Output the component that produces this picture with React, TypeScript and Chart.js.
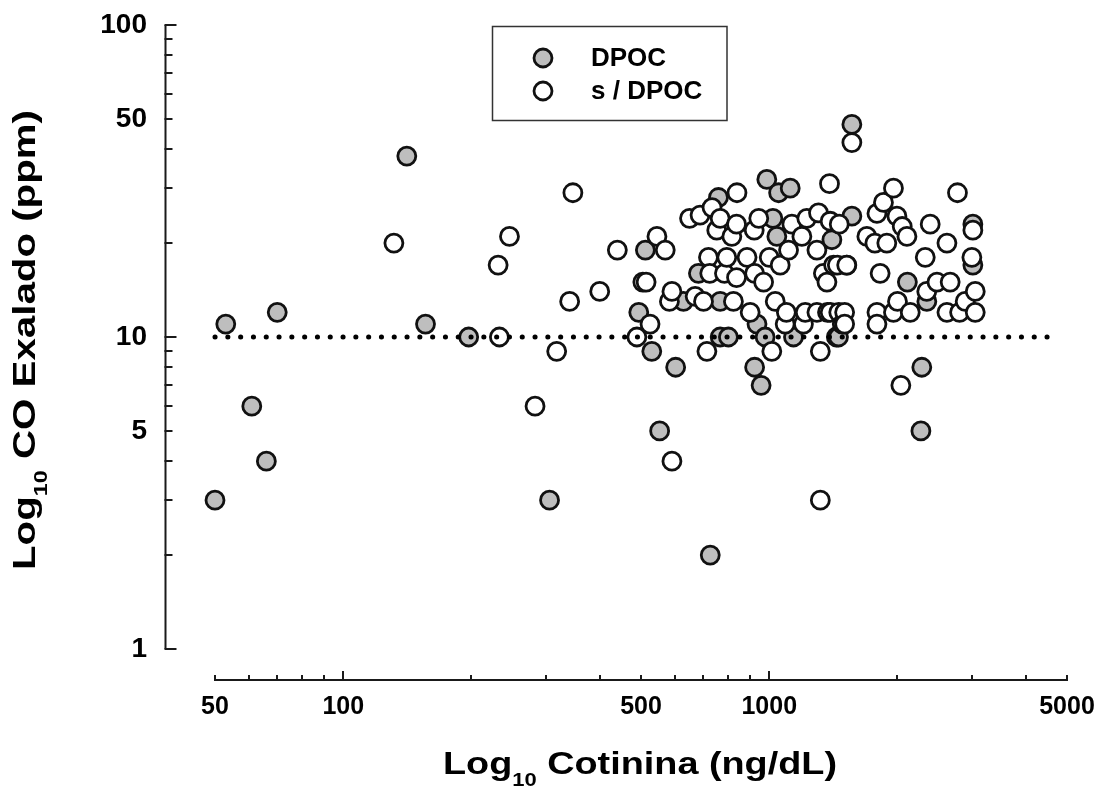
import React, { useEffect, useRef } from 'react';
import { Chart, registerables } from 'chart.js';

Chart.register(...registerables);

// ---- Axis ticks ----
const X_TICK_LABELS = [50, 100, 500, 1000, 5000];
const Y_TICK_LABELS = [1, 5, 10, 50, 100];
const X_TICK_MARKS = [50, 60, 70, 80, 90, 100, 200, 300, 400, 500, 600, 700, 800, 900, 1000, 2000, 3000, 4000, 5000];
const X_MAJOR_MARKS = [100, 1000];
const Y_TICK_MARKS = [1, 2, 3, 4, 5, 6, 7, 8, 9, 10, 20, 30, 40, 50, 60, 70, 80, 90, 100];
const Y_MAJOR_MARKS = [1, 10, 100];

// ---- Reference line (CO = 10 ppm) ----
const REF_LINE_X = [50, 4800];
const REF_LINE_Y = 10;

// ---- DPOC (grey) ----
const dpocX = [50, 53, 61, 66, 70, 141, 156, 197, 305, 494, 512, 530, 553, 603, 629, 682, 727, 760, 767, 767, 802, 924, 936, 957, 978, 987, 1020, 1042, 1052, 1120, 1140, 1403, 1437, 1454, 1521, 1563, 1563, 2110, 2270, 2281, 2344, 3006, 3006];
const dpocY = [3, 11, 6, 4, 12, 38, 11, 10, 3, 12, 19, 9, 5, 8, 13, 16, 2, 28, 10, 13, 10, 8, 11, 7, 10, 32, 24, 21, 29, 30, 10, 20.5, 10, 10, 17, 48, 24.4, 15, 5, 8, 13, 23, 17];

// ---- s / DPOC (open) ----
const sdpocX = [131.5, 232.6, 231, 245.6, 282, 317, 340, 346, 400, 440, 489, 505, 514, 525, 545, 570, 583, 591, 591, 650, 670, 688, 701, 714, 720, 725, 734, 753, 767, 785, 795, 817, 824, 838, 838, 840, 887, 902, 922, 924, 945, 970, 1000, 1014, 1033, 1061, 1090, 1097, 1110, 1130, 1193, 1203, 1215, 1225, 1294, 1294, 1305, 1318, 1318, 1340, 1366, 1370, 1385, 1390, 1390, 1416, 1445, 1456, 1460, 1484, 1503, 1503, 1520, 1563, 1695, 1770, 1790, 1790, 1790, 1821, 1854, 1888, 1957, 1957, 1994, 2000, 2037, 2052, 2105, 2143, 2324, 2343, 2387, 2476, 2613, 2613, 2659, 2766, 2798, 2884, 2990, 3006, 3045, 3045];
const sdpocY = [20, 10, 17, 21, 6, 9, 13, 29, 14, 19, 10, 15, 15, 11, 21, 19, 13, 14, 4, 24, 13.5, 24.6, 13, 9, 18, 16, 26, 22, 24, 16, 18, 21, 13, 23, 15.5, 29, 18, 12, 22, 16, 24, 15, 18, 9, 13, 17, 11, 12, 19, 23, 21, 11, 12, 24, 12, 19, 25, 9, 3, 16, 15, 12, 31, 23.5, 12, 17, 17, 12, 23, 11, 12, 11, 17, 42, 21, 20, 24.9, 12, 11, 16, 27, 20, 30, 12, 24.4, 13, 7, 22.6, 21, 12, 18, 14, 23, 15, 20, 12, 15, 29, 12, 13, 18, 22, 14, 12];

const SERIES_LABELS = ['DPOC', 's / DPOC'];
const X_TITLE = [
  { t: 'Log', sub: false },
  { t: '10', sub: true },
  { t: ' Cotinina (ng/dL)', sub: false },
];
const Y_TITLE = [
  { t: 'Log', sub: false },
  { t: '10', sub: true },
  { t: ' CO Exalado (ppm)', sub: false },
];

const FONT = 'Arial, "Liberation Sans", Helvetica, sans-serif';
const GREY = '#bebebe';
const EDGE = '#111111';

type Part = { t: string; sub: boolean };

function drawRich(ctx: CanvasRenderingContext2D, parts: Part[], size: number, target: number) {
  const subSize = Math.round(size * 0.58);
  let w = 0;
  for (const p of parts) {
    ctx.font = `bold ${p.sub ? subSize : size}px ${FONT}`;
    w += ctx.measureText(p.t).width;
  }
  const s = target / w;
  ctx.scale(s, 1);
  let x = 0;
  ctx.textBaseline = 'alphabetic';
  ctx.textAlign = 'left';
  for (const p of parts) {
    ctx.font = `bold ${p.sub ? subSize : size}px ${FONT}`;
    ctx.fillText(p.t, x, p.sub ? size * 0.38 : 0);
    x += ctx.measureText(p.t).width;
  }
}

const decorPlugin = {
  id: 'decor',
  afterDraw(chart: any) {
    const ctx: CanvasRenderingContext2D = chart.ctx;
    const xs = chart.scales.x;
    const ys = chart.scales.y;
    ctx.save();
    ctx.strokeStyle = '#1a1a1a';
    ctx.fillStyle = '#000';
    ctx.lineWidth = 2;
    ctx.lineCap = 'butt';

    // y axis (detached)
    const yAxisX = 165.5;
    ctx.beginPath();
    ctx.moveTo(yAxisX, ys.getPixelForValue(100));
    ctx.lineTo(yAxisX, ys.getPixelForValue(1));
    ctx.stroke();
    for (const v of Y_TICK_MARKS) {
      const py = Math.round(ys.getPixelForValue(v));
      const len = Y_MAJOR_MARKS.includes(v) ? 11 : 7;
      ctx.beginPath();
      ctx.moveTo(yAxisX - 1, py);
      ctx.lineTo(yAxisX + len, py);
      ctx.stroke();
    }

    // x axis (detached)
    const xAxisY = 680;
    ctx.beginPath();
    ctx.moveTo(xs.getPixelForValue(50), xAxisY);
    ctx.lineTo(xs.getPixelForValue(5000), xAxisY);
    ctx.stroke();
    for (const v of X_TICK_MARKS) {
      const px = Math.round(xs.getPixelForValue(v));
      const len = X_MAJOR_MARKS.includes(v) ? 9 : 5;
      ctx.beginPath();
      ctx.moveTo(px, xAxisY + 1);
      ctx.lineTo(px, xAxisY - len);
      ctx.stroke();
    }

    // axis titles
    ctx.save();
    ctx.translate(443, 774);
    drawRich(ctx, X_TITLE, 31, 394);
    ctx.restore();

    ctx.save();
    ctx.translate(35, 570);
    ctx.rotate(-Math.PI / 2);
    drawRich(ctx, Y_TITLE, 31, 460);
    ctx.restore();

    // legend box
    ctx.lineWidth = 1.5;
    ctx.strokeStyle = '#333';
    ctx.strokeRect(492.5, 26.5, 234.5, 94);
    const ds = chart.data.datasets;
    const rows = [
      { d: ds[1], y: 58 },
      { d: ds[2], y: 91 },
    ];
    for (const r of rows) {
      ctx.beginPath();
      ctx.arc(543, r.y, 9, 0, Math.PI * 2);
      ctx.fillStyle = r.d.backgroundColor;
      ctx.fill();
      ctx.lineWidth = 2.8;
      ctx.strokeStyle = r.d.borderColor;
      ctx.stroke();
      ctx.fillStyle = '#000';
      ctx.font = `bold 26px ${FONT}`;
      ctx.textAlign = 'left';
      ctx.textBaseline = 'middle';
      ctx.fillText(r.d.label, 591, r.y + 1);
    }
    ctx.restore();
  },
};

export default function App() {
  const ref = useRef<HTMLCanvasElement | null>(null);
  useEffect(() => {
    if (!ref.current) return;
    const pts = (xs: number[], ys: number[]) => xs.map((x, i) => ({ x, y: ys[i] }));
    const chart = new Chart(ref.current, {
      type: 'scatter',
      data: {
        datasets: [
          {
            type: 'line',
            label: 'ref',
            data: REF_LINE_X.map((x) => ({ x, y: REF_LINE_Y })),
            borderColor: '#000',
            borderWidth: 5,
            borderDash: [0.1, 12.7],
            borderCapStyle: 'round',
            pointRadius: 0,
            fill: false,
            clip: false,
            order: 0,
          } as any,
          {
            label: SERIES_LABELS[0],
            data: pts(dpocX, dpocY),
            backgroundColor: GREY,
            borderColor: EDGE,
            borderWidth: 2.8,
            pointRadius: 9,
            clip: false,
            order: 2,
          } as any,
          {
            label: SERIES_LABELS[1],
            data: pts(sdpocX, sdpocY),
            backgroundColor: '#ffffff',
            borderColor: EDGE,
            borderWidth: 2.8,
            pointRadius: 9,
            clip: false,
            order: 1,
          } as any,
        ],
      },
      options: {
        responsive: false,
        animation: false,
        devicePixelRatio: 1,
        layout: { padding: { left: 0, right: 34, top: 25, bottom: 0 } },
        plugins: { legend: { display: false }, tooltip: { enabled: false } },
        scales: {
          x: {
            type: 'logarithmic',
            min: 50,
            max: 5000,
            position: 'bottom',
            grid: { display: false, drawTicks: true, tickLength: 43 },
            border: { display: false },
            afterBuildTicks: (s: any) => {
              s.ticks = X_TICK_LABELS.map((v) => ({ value: v }));
            },
            afterFit: (s: any) => {
              s.height = 141;
            },
            ticks: {
              autoSkip: false,
              maxRotation: 0,
              padding: 0,
              color: '#000',
              font: { family: FONT, size: 25, weight: 'bold' },
              callback: (v: any) => String(v),
            },
          },
          y: {
            type: 'logarithmic',
            min: 1,
            max: 100,
            grid: { display: false, drawTicks: true, tickLength: 68 },
            border: { display: false },
            afterBuildTicks: (s: any) => {
              s.ticks = Y_TICK_LABELS.map((v) => ({ value: v }));
            },
            afterFit: (s: any) => {
              s.width = 215;
            },
            ticks: {
              autoSkip: false,
              padding: 0,
              color: '#000',
              font: { family: FONT, size: 28, weight: 'bold' },
              callback: (v: any) => String(v),
            },
          },
        },
      } as any,
      plugins: [decorPlugin],
    });
    return () => chart.destroy();
  }, []);
  return (
    <div style={{ position: 'absolute', left: 0, top: 0, width: 1101, height: 790, background: '#fff' }}>
      <canvas ref={ref} width={1101} height={790} style={{ display: 'block' }} />
    </div>
  );
}
